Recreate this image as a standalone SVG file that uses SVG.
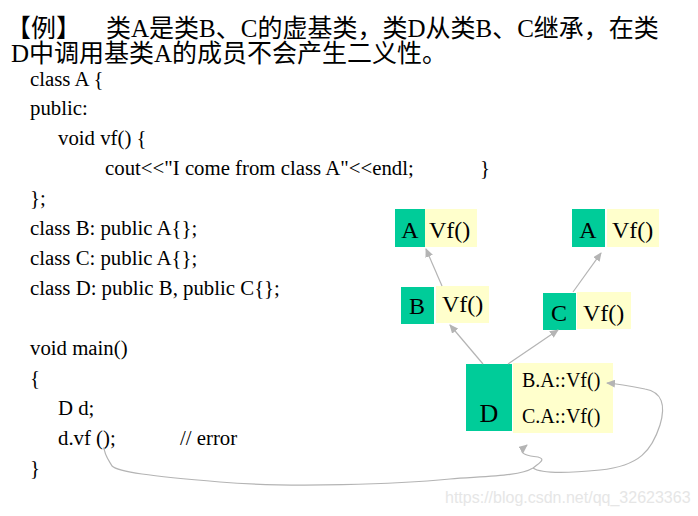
<svg xmlns="http://www.w3.org/2000/svg" width="698" height="516" viewBox="0 0 698 516">
<style>
.title{font-family:"Liberation Serif","Noto Sans CJK SC",serif;font-size:25px;fill:#000}
.code{font-family:"Liberation Serif",serif;font-size:20.8px;fill:#000}
.lbl{font-family:"Liberation Serif",serif;font-size:24px;fill:#000}
.mem{font-family:"Liberation Serif",serif;font-size:20px;fill:#000}
.g{fill:#00CC99}
.y{fill:#FFFFCC}
.c{fill:none;stroke:#b4b4b4;stroke-width:1.2}
.wm{font-family:"Liberation Sans",Arial,sans-serif;font-size:16px;fill:#e6e6e6}
</style>
<defs>
<marker id="ah" markerUnits="userSpaceOnUse" markerWidth="9" markerHeight="8" refX="8" refY="4" orient="auto">
<path d="M0,0 L9,4 L0,8 Z" fill="#b4b4b4"/>
</marker>
</defs>
<rect width="698" height="516" fill="#fff"/>
<g id="title">
<text class="title" x="6" y="37">【例】</text>
<text class="title" x="106" y="37">类A是类B、C的虚基类，类D从类B、C继承，在类</text>
<text class="title" x="11" y="62">D中调用基类A的成员不会产生二义性。</text>
</g>
<g id="code">
<text class="code" x="30" y="86">class A {</text>
<text class="code" x="30" y="115">public:</text>
<text class="code" x="58" y="145">void vf() {</text>
<text class="code" x="105" y="175">cout&lt;&lt;"I come from class A"&lt;&lt;endl;</text>
<text class="code" x="480" y="175">}</text>
<text class="code" x="30" y="205">};</text>
<text class="code" x="30" y="235">class B: public A{};</text>
<text class="code" x="30" y="265">class C: public A{};</text>
<text class="code" x="30" y="295">class D: public B, public C{};</text>
<text class="code" x="30" y="355">void main()</text>
<text class="code" x="30" y="385">{</text>
<text class="code" x="58" y="415">D d;</text>
<text class="code" x="58" y="445">d.vf ();</text>
<text class="code" x="180" y="445">// error</text>
<text class="code" x="30" y="475">}</text>
</g>
<g id="nodeA1">
<rect class="g" x="395" y="209" width="30" height="38"/>
<rect class="y" x="425" y="209" width="52" height="38"/>
<text class="lbl" x="410" y="238" text-anchor="middle">A</text>
<text class="lbl" x="429" y="238">Vf()</text>
</g>
<g id="nodeA2">
<rect class="g" x="572" y="209" width="33" height="38"/>
<rect class="y" x="607" y="209" width="52" height="38"/>
<text class="lbl" x="588" y="238" text-anchor="middle">A</text>
<text class="lbl" x="612" y="238">Vf()</text>
</g>
<g id="nodeB">
<rect class="g" x="401" y="287" width="33" height="37"/>
<rect class="y" x="436" y="286" width="53" height="37"/>
<text class="lbl" x="417" y="314" text-anchor="middle">B</text>
<text class="lbl" x="442" y="312">Vf()</text>
</g>
<g id="nodeC">
<rect class="g" x="543" y="293" width="33" height="37"/>
<rect class="y" x="577" y="292" width="54" height="37"/>
<text class="lbl" x="559" y="321" text-anchor="middle">C</text>
<text class="lbl" x="583" y="321">Vf()</text>
</g>
<g id="nodeD">
<rect class="g" x="466" y="364" width="46" height="67"/>
<rect class="y" x="513" y="363" width="100" height="70"/>
<text class="lbl" x="489" y="422" text-anchor="middle" style="font-size:26px">D</text>
<text class="mem" x="522" y="387">B.A::Vf()</text>
<text class="mem" x="522" y="423">C.A::Vf()</text>
</g>
<g id="connectors">
<path class="c" d="M442,286 L426,249" marker-end="url(#ah)"/>
<path class="c" d="M573,292 L601,253" marker-end="url(#ah)"/>
<path class="c" d="M483,364 L450,325" marker-end="url(#ah)"/>
<path class="c" d="M508,364 L558,330" marker-end="url(#ah)"/>
<path class="c" d="M104,447 C104,455 110,462 112,466 C118,472 150,476 220,482 C290,488 400,484 450,479 C490,476 520,476 533,468 C540,463 546,459 538,457 C528,456 520,454 522,449 L527,445" marker-end="url(#ah)"/>
<path class="c" d="M533,468 C540,473 560,474 600,470 C640,466 652,450 660,425 C666,405 662,392 645,389 C630,386 620,384 607,383" marker-end="url(#ah)"/>
</g>
<text class="wm" x="445" y="503">https://blog.csdn.net/qq_32623363</text>
</svg>
